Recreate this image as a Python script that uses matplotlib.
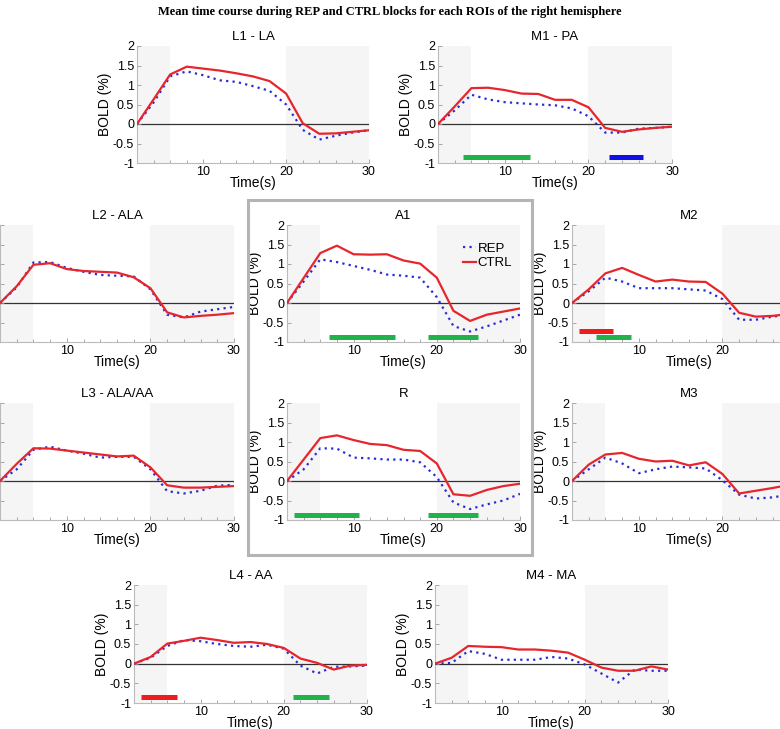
import matplotlib
matplotlib.use("Agg")
import matplotlib.pyplot as plt
from matplotlib.patches import Rectangle

plt.rcParams['font.family'] = ['Liberation Sans', 'DejaVu Sans']

# time points (s)
TIME = [2, 4, 6, 8, 10, 12, 14, 16, 18, 20, 22, 24, 26, 28, 30]

# mean BOLD (%) per ROI: CTRL and REP
L1_CTRL = [0, 0.63, 1.27, 1.47, 1.42, 1.37, 1.30, 1.22, 1.10, 0.78, 0.02, -0.25, -0.24, -0.20, -0.16]
L1_REP = [0, 0.55, 1.22, 1.35, 1.25, 1.12, 1.08, 0.97, 0.85, 0.50, -0.15, -0.40, -0.30, -0.22, -0.16]
M1_CTRL = [0, 0.45, 0.92, 0.93, 0.87, 0.78, 0.77, 0.62, 0.62, 0.43, -0.10, -0.20, -0.14, -0.10, -0.07]
M1_REP = [0, 0.35, 0.75, 0.63, 0.56, 0.53, 0.50, 0.48, 0.40, 0.20, -0.22, -0.22, -0.12, -0.10, -0.07]
L2_CTRL = [0, 0.43, 0.98, 1.02, 0.87, 0.82, 0.80, 0.78, 0.66, 0.38, -0.24, -0.37, -0.33, -0.30, -0.26]
L2_REP = [0, 0.40, 1.04, 1.05, 0.90, 0.80, 0.72, 0.70, 0.68, 0.35, -0.30, -0.37, -0.22, -0.16, -0.10]
A1_CTRL = [0, 0.64, 1.28, 1.47, 1.25, 1.24, 1.25, 1.09, 1.01, 0.65, -0.20, -0.46, -0.30, -0.22, -0.14]
A1_REP = [0, 0.55, 1.12, 1.05, 0.95, 0.85, 0.73, 0.70, 0.65, 0.15, -0.59, -0.73, -0.60, -0.45, -0.30]
M2_CTRL = [0, 0.35, 0.76, 0.90, 0.72, 0.55, 0.60, 0.55, 0.54, 0.24, -0.25, -0.35, -0.33, -0.28, -0.25]
M2_REP = [0, 0.30, 0.65, 0.55, 0.38, 0.38, 0.38, 0.35, 0.32, 0.10, -0.43, -0.43, -0.35, -0.30, -0.25]
L3_CTRL = [0, 0.44, 0.84, 0.83, 0.78, 0.73, 0.68, 0.63, 0.65, 0.35, -0.11, -0.17, -0.17, -0.15, -0.13]
L3_REP = [0, 0.30, 0.80, 0.88, 0.78, 0.70, 0.60, 0.62, 0.62, 0.30, -0.26, -0.32, -0.25, -0.12, -0.10]
R_CTRL = [0, 0.55, 1.10, 1.17, 1.05, 0.95, 0.92, 0.80, 0.77, 0.45, -0.34, -0.38, -0.23, -0.13, -0.07]
R_REP = [0, 0.30, 0.84, 0.83, 0.60, 0.58, 0.55, 0.55, 0.48, 0.10, -0.55, -0.72, -0.60, -0.50, -0.33]
M3_CTRL = [0, 0.42, 0.68, 0.72, 0.57, 0.50, 0.52, 0.40, 0.48, 0.18, -0.32, -0.25, -0.18, -0.10, -0.15]
M3_REP = [0, 0.30, 0.60, 0.45, 0.20, 0.30, 0.37, 0.35, 0.32, 0.02, -0.35, -0.45, -0.42, -0.35, -0.30]
L4_CTRL = [0, 0.17, 0.51, 0.58, 0.66, 0.60, 0.53, 0.55, 0.50, 0.40, 0.13, 0.02, -0.15, -0.05, -0.03]
L4_REP = [0, 0.15, 0.45, 0.60, 0.57, 0.50, 0.45, 0.43, 0.48, 0.38, -0.05, -0.25, -0.08, -0.07, -0.05]
M4_CTRL = [0, 0.15, 0.45, 0.43, 0.42, 0.36, 0.36, 0.33, 0.28, 0.10, -0.10, -0.18, -0.18, -0.07, -0.15]
M4_REP = [0, 0.02, 0.32, 0.25, 0.10, 0.10, 0.10, 0.17, 0.13, -0.02, -0.25, -0.48, -0.15, -0.18, -0.18]

# significance bars: (start, end, level, colour key)
M1_SIG = [(5, 13, -0.85, 'green'), (22.5, 26.5, -0.85, 'blue')]
A1_SIG = [(7, 15, -0.87, 'green'), (19, 25, -0.87, 'green')]
R_SIG = [(2.8, 10.7, -0.87, 'green'), (19, 25, -0.87, 'green')]
M2_SIG = [(2.8, 6.9, -0.73, 'red'), (4.9, 9.0, -0.88, 'green')]
L4_SIG = [(2.9, 7.2, -0.86, 'red'), (21.1, 25.4, -0.86, 'green')]

SIG_COLORS = {'green': '#22b24c', 'red': '#ee1c1c', 'blue': '#1010e6'}
RED = '#e6262c'
BLUE = '#2b2bd6'
SHADE = '#f5f5f5'

W, H = 780, 729
fig = plt.figure(figsize=(W / 100, H / 100), dpi=100)


def box(left, right, top, bottom):
    return [left / W, 1 - bottom / H, (right - left) / W, (bottom - top) / H]


# (title, ctrl, rep, sig, pixel box, which side is cut by the figure edge)
PANELS = [
    ("L1 - LA", L1_CTRL, L1_REP, [], box(137, 369, 46, 163), None),
    ("M1 - PA", M1_CTRL, M1_REP, M1_SIG, box(438, 672, 46, 163), None),
    ("L2 - ALA", L2_CTRL, L2_REP, [], box(0, 234, 225, 342), 'left'),
    ("A1", A1_CTRL, A1_REP, A1_SIG, box(287, 520, 225, 342), None),
    ("M2", M2_CTRL, M2_REP, M2_SIG, box(572, 806, 225, 342), 'right'),
    ("L3 - ALA/AA", L3_CTRL, L3_REP, [], box(0, 234, 403, 520), 'left'),
    ("R", R_CTRL, R_REP, R_SIG, box(287, 520, 403, 520), None),
    ("M3", M3_CTRL, M3_REP, [], box(572, 806, 403, 520), 'right'),
    ("L4 - AA", L4_CTRL, L4_REP, L4_SIG, box(134, 367, 585, 703), None),
    ("M4 - MA", M4_CTRL, M4_REP, [], box(435, 668, 585, 703), None),
]

for name, ctrl, rep, sig, rect, cut in PANELS:
    ax = fig.add_axes(rect)
    ax.axvspan(2, 6, color=SHADE, lw=0, zorder=0)
    ax.axvspan(20, 30, color=SHADE, lw=0, zorder=0)
    ax.axhline(0, color='#333333', lw=0.9, zorder=1)
    ax.plot(TIME, rep, color=BLUE, lw=1.6, ls=(0, (1, 1.9)), label='REP', zorder=3)
    ax.plot(TIME, ctrl, color=RED, lw=1.6, label='CTRL', zorder=4)
    for s, e, lvl, c in sig:
        ax.plot([s, e], [lvl, lvl], color=SIG_COLORS[c], lw=3.6,
                solid_capstyle='butt', zorder=5)
    ax.set_xlim(2, 30)
    ax.set_ylim(-1, 2)
    ax.set_xticks([10, 20, 30])
    ax.set_xticks(TIME, minor=True)
    ax.set_yticks([-1, -0.5, 0, 0.5, 1, 1.5, 2])
    ax.set_yticklabels(['-1', '-0.5', '0', '0.5', '1', '1.5', '2'])
    ax.tick_params(direction='in', length=3, width=0.6, colors='#999999',
                   labelcolor='black', labelsize=9, pad=2)
    ax.tick_params(which='minor', direction='in', length=2, width=0.6, colors='#999999')
    for sp in ('top', 'right'):
        ax.spines[sp].set_visible(False)
    for sp in ('left', 'bottom'):
        ax.spines[sp].set_color('#bbbbbb')
        ax.spines[sp].set_linewidth(0.8)
    ax.set_title(name, fontsize=9.5, pad=4)
    ax.set_xlabel("Time(s)", fontsize=10, labelpad=-1)
    if cut == 'left':
        # labels fall outside the picture in the original
        ax.tick_params(axis='y', labelleft=False)
    else:
        ax.set_ylabel("BOLD (%)", fontsize=10, labelpad=1)
    if cut == 'right':
        ax.set_xticklabels(['10', '20', ''])
    if name == "A1":
        ax.legend(loc='upper right', bbox_to_anchor=(1.0, 0.92), frameon=False,
                  fontsize=9.5, handlelength=1.0, handletextpad=0.1,
                  labelspacing=0.2, borderaxespad=0.2)

# grey frame around A1 / R
fig.patches.append(Rectangle((248 / W, 1 - 555 / H), (532 - 248) / W, (555 - 200) / H,
                             transform=fig.transFigure, fill=False,
                             edgecolor='#b4b4b4', lw=2.2, zorder=10))

fig.text(0.5, 1 - 12 / H,
         "Mean time course during REP and CTRL blocks for each ROIs of the right hemisphere",
         ha='center', va='center', fontsize=9, fontweight='bold',
         family=['Liberation Serif', 'DejaVu Serif'])

fig.savefig("out.png", dpi=100)
